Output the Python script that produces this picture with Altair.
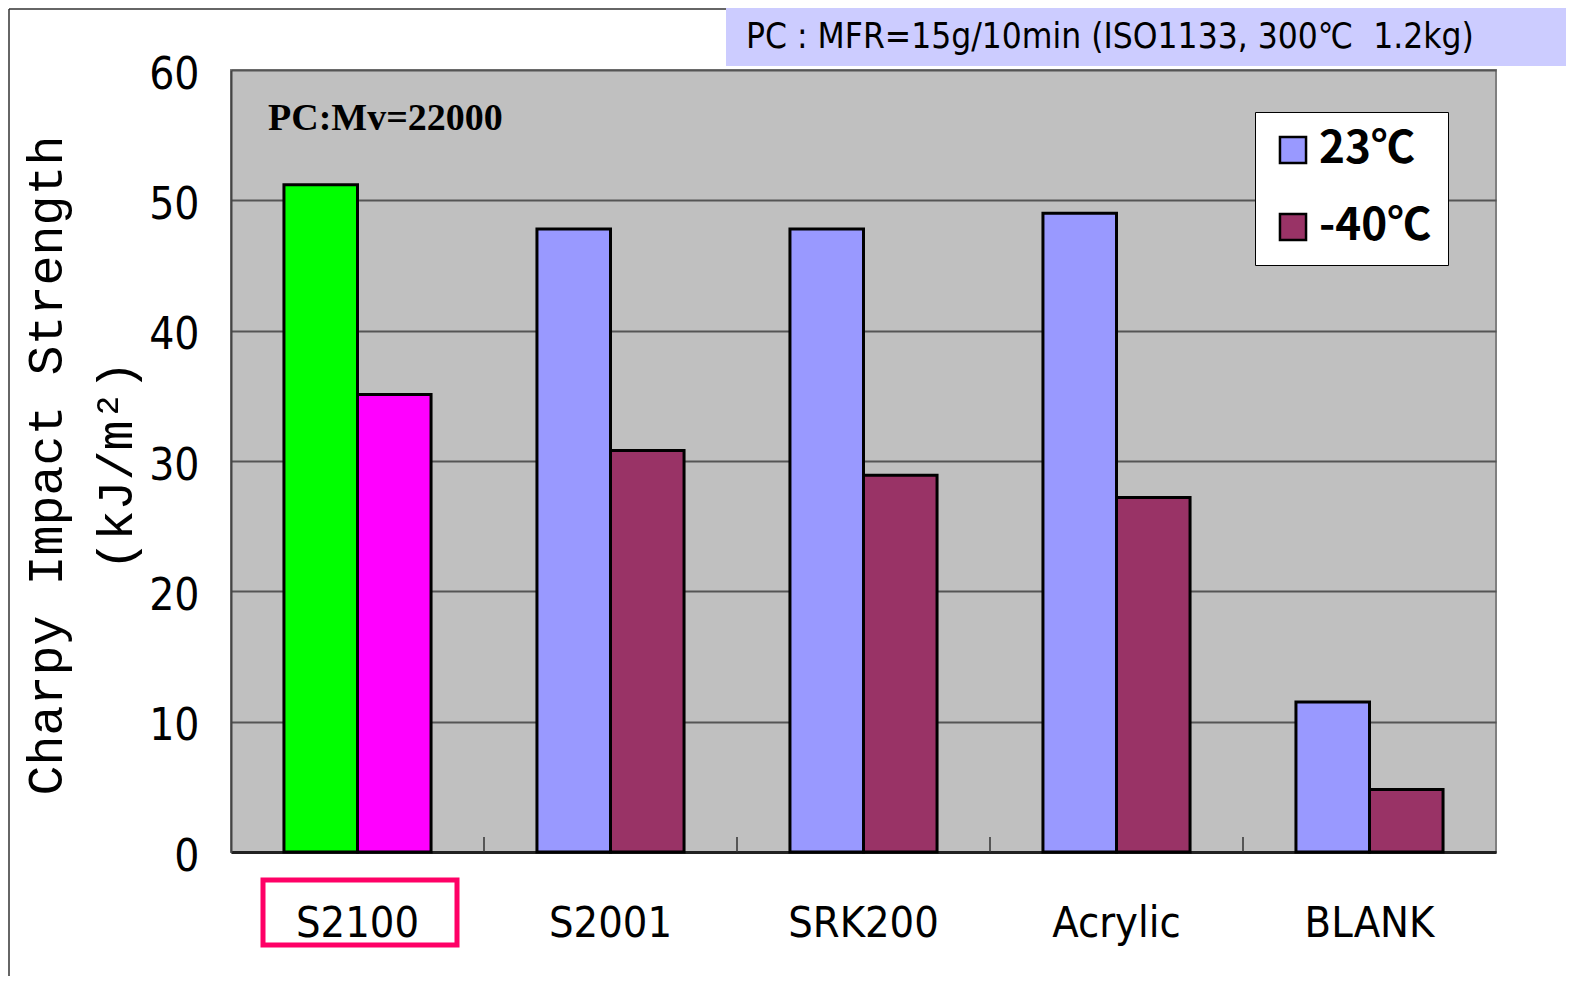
import altair as alt
import pandas as pd

categories = ["S2100", "S2001", "SRK200", "Acrylic", "BLANK"]
series = ["23℃", "-40℃"]
v23 = [51.2, 47.8, 47.8, 49.0, 11.5]
v40 = [35.1, 30.8, 28.9, 27.2, 4.8]

keys = ["23℃", "-40℃", "S2100 23℃", "S2100 -40℃"]
key_colors = ["#9999FF", "#993366", "#00FF00", "#FF00FF"]

rows = []
for c, a, b in zip(categories, v23, v40):
    for s, v in zip(series, [a, b]):
        k = ("S2100 " + s) if c == "S2100" else s
        rows.append({"cat": c, "series": s, "value": v, "key": k})
df = pd.DataFrame(rows)

W, H = 1265, 782
NARROW = "'Liberation Sans Narrow', 'DejaVu Sans Condensed', 'Liberation Sans', sans-serif"

bars = alt.Chart(df).mark_bar(stroke="black", strokeWidth=3).encode(
    x=alt.X("cat:N", sort=categories,
            scale=alt.Scale(paddingInner=0, paddingOuter=0),
            axis=alt.Axis(title=None, labelAngle=0, tickSize=0, labelPadding=50,
                          labelFont=NARROW, labelFontSize=43,
                          labelColor="black", domainColor="#222", domainWidth=3,
                          grid=False)),
    xOffset=alt.XOffset("series:N", sort=series,
                        scale=alt.Scale(domain=series, paddingInner=0, paddingOuter=0.72)),
    y=alt.Y("value:Q", scale=alt.Scale(domain=[0, 60]),
            axis=alt.Axis(values=[0, 10, 20, 30, 40, 50, 60], tickSize=0, labelPadding=32,
                          labelFont=NARROW, labelFontSize=44, labelOffset=5,
                          labelColor="black", domainColor="#444", domainWidth=2,
                          gridColor="#555", gridWidth=2,
                          title=["Charpy Impact Strength", "(kJ/m²)"],
                          titleFont="Liberation Mono", titleFontSize=50,
                          titleFontWeight="normal", titleLineHeight=70,
                          titleColor="black", titleX=-210, titleY=395,
                          titleAlign="center", titleBaseline="top", titleAngle=270)),
    color=alt.Color("key:N", scale=alt.Scale(domain=keys, range=key_colors),
                    legend=alt.Legend(values=series, title=None, orient="none",
                                      legendX=1024, legendY=42,
                                      fillColor="white", strokeColor="black",
                                      padding=16, symbolType="square", symbolSize=680,
                                      symbolStrokeColor="black", symbolStrokeWidth=2.5,
                                      symbolOpacity=1,
                                      labelFont="Noto Sans CJK JP", labelFontSize=44,
                                      labelFontWeight="bold", labelColor="black",
                                      labelOffset=4, rowPadding=33, labelLimit=300)),
)

tick_df = pd.DataFrame({"cat": categories[1:]})
ticks = alt.Chart(tick_df).mark_rule(color="#333", strokeWidth=1.5).encode(
    x=alt.X("cat:N", sort=categories, bandPosition=0),
    y=alt.datum(0),
    y2=alt.datum(1.15),
)

mv = alt.Chart(pd.DataFrame({"t": ["PC:Mv=22000"]})).mark_text(
    font="Liberation Serif", fontSize=38, fontWeight="bold", align="left",
    baseline="alphabetic", color="black").encode(
    text="t:N", x=alt.value(37), y=alt.value(60))

box = alt.Chart(pd.DataFrame({"a": [1]})).mark_rect(fill="#CCCCFF").encode(
    x=alt.value(495), x2=alt.value(1340), y=alt.value(-62), y2=alt.value(-4))

mfr = alt.Chart(pd.DataFrame({"t": ["PC : MFR=15g/10min (ISO1133, 300℃\u00a0\u00a01.2kg)"]})).mark_text(
    font=NARROW, fontSize=35, align="left", baseline="alphabetic",
    color="black").encode(text="t:N", x=alt.value(515), y=alt.value(-22))

redbox = alt.Chart(pd.DataFrame({"a": [1]})).mark_rect(
    fill=None, stroke="#FF0066", strokeWidth=5).encode(
    x=alt.value(32), x2=alt.value(226), y=alt.value(810), y2=alt.value(875))

frame_h = alt.Chart(pd.DataFrame({"a": [1]})).mark_rule(color="#333", strokeWidth=1.5).encode(
    x=alt.value(-222), x2=alt.value(495), y=alt.value(-61))
frame_v = alt.Chart(pd.DataFrame({"a": [1]})).mark_rule(color="#333", strokeWidth=1.5).encode(
    x=alt.value(-222), y=alt.value(-61), y2=alt.value(906))

chart = alt.layer(bars, ticks, mv, box, mfr, redbox, frame_h, frame_v).properties(
    width=W, height=H,
    autosize=alt.AutoSizeParams(type="none"),
    padding={"left": 223, "top": 62, "right": 70, "bottom": 124},
    background="white",
).configure_view(fill="#C0C0C0", stroke="#808080", strokeWidth=2)

chart.save("out.html", embed_options={"renderer": "svg", "actions": False})
